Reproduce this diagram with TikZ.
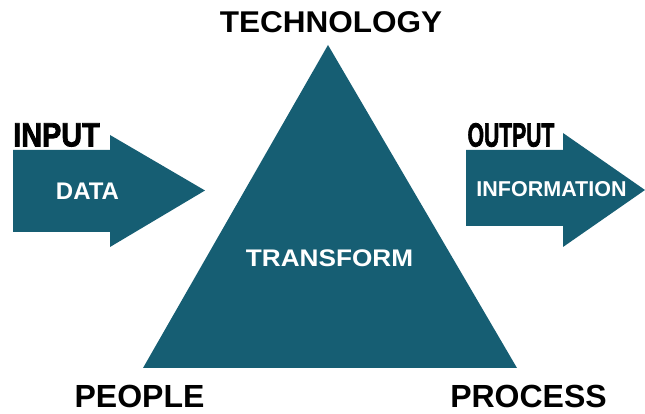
\documentclass[tikz,border=0pt]{standalone}
\usepackage{fontspec}
\setmainfont{Liberation Sans}
\newfontfamily\heavyfont[BoldFeatures={FakeBold=2.5}]{Liberation Sans}
\usepackage{tikz}

\definecolor{tfteal}{RGB}{22,94,115}

\begin{document}
\begin{tikzpicture}[x=1pt,y=1pt,
    corner/.style = {inner sep=0pt, font=\bfseries\fontsize{32}{32}\selectfont},
    inside/.style = {inner sep=0pt, text=white,
                     font=\bfseries\fontsize{24}{24}\selectfont},
    heading/.style = {inner sep=0pt,
                      font=\heavyfont\bfseries\fontsize{33.5}{33.5}\selectfont}]
  \useasboundingbox (0,0) rectangle (645,414);

  % triangle and the two arrows
  \fill[tfteal] (328,369) -- (143,46) -- (517,46) -- cycle;
  \fill[tfteal] (13,182) -- (13,264) -- (110,264) -- (110,279)
    -- (205,223.5) -- (110,167) -- (110,182) -- cycle;
  \fill[tfteal] (466,188) -- (466,264) -- (563,264) -- (563,281)
    -- (645,224) -- (563,167) -- (563,188) -- cycle;

  \node (tech) [corner, font=\bfseries\fontsize{30}{30}\selectfont]
    at (331,391.5) {\scalebox{1.05}[1]{TECHNOLOGY}};
  \node (people) [corner] at (139.5,17.5) {PEOPLE};
  \node (process) [corner] at (528.5,17.5) {PROCESS};
  \node (transform) [inside] at (329.5,155.5) {\scalebox{1.09}[1]{TRANSFORM}};

  \node (data) [inside] at (87.5,223) {DATA};
  \node (info) [inside, font=\bfseries\fontsize{21.5}{21.5}\selectfont]
    at (551.5,224.5) {INFORMATION};

  \node (input) [heading] at (56.5,279) {\scalebox{0.86}[1]{INPUT}};
  \node (output) [heading] at (511,279) {\scalebox{0.63}[1]{OUTPUT}};
\end{tikzpicture}
\end{document}
